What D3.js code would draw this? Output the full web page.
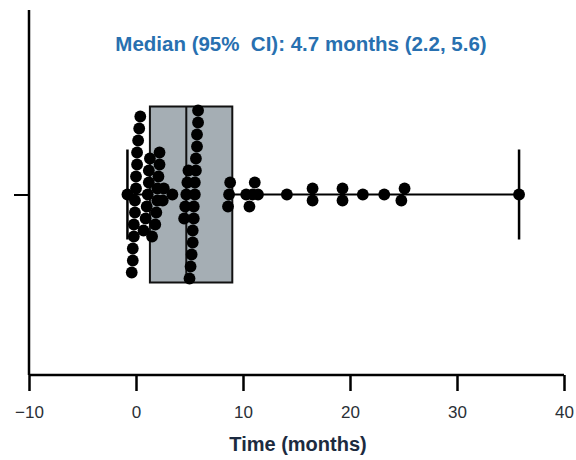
<!DOCTYPE html>
<html>
<head>
<meta charset="utf-8">
<script src="https://cdn.jsdelivr.net/npm/d3@7"></script>
<style>
	body { margin: 0; background: #fff; }
	text { font-family: 'Liberation Sans', Arial, sans-serif; }
</style>
</head>
<body>
<svg id="chart"></svg>
<script>
// time to event, months
const times = [
	-0.8,
	-0.4, -0.3, -0.3, -0.2, -0.2, -0.1, -0.1, 0, 0, 0.1, 0.1, 0.2, 0.3, 0.4,
	0.7, 0.9, 1.0, 1.1, 1.2, 1.2, 1.3,
	1.5, 1.8, 1.9, 2.0, 2.0, 2.1, 2.2, 2.2,
	2.5, 2.6,
	3.4,
	4.5, 4.6, 4.7, 4.8, 4.9,
	5.0, 5.1, 5.2, 5.3, 5.3, 5.4, 5.4, 5.5, 5.5, 5.6, 5.6, 5.7, 5.7, 5.8, 5.8,
	8.6, 8.7, 8.8,
	10.3, 10.6, 10.9, 11.1, 11.4,
	14.1, 16.5, 16.5, 19.3, 19.3, 21.2, 23.2, 24.8, 25.1, 35.8
]
// box summary: min, q1, median, q3, max
const boxStats = { min: -0.8, q1: 1.3, median: 4.7, q3: 9.0, max: 35.8 }
const xTicks = [-10, 0, 10, 20, 30, 40]
const categories = ['all']
const title = 'Median (95%  CI): 4.7 months (2.2, 5.6)'
const xLabel = 'Time (months)'

const width = 576
const height = 460
const margin = { top: 10, right: 12, bottom: 85, left: 29 }

const svg = d3.select('#chart').attr('width', width).attr('height', height)

const xScale = d3.scaleLinear().domain([-10, 40]).range([margin.left, width - margin.right])
const yScale = d3.scalePoint().domain(categories).range([margin.top, height - margin.bottom]).padding(0.98)

const cy = yScale('all') + 2
const r = 5.9
const gap = 12
const binW = 0.9

// column scatter: values in the same bin are stacked symmetrically about the centre
const bins = d3.groups(times.slice().sort((a, b) => a - b), t => Math.round(t / binW))
const placed = []
bins.forEach(([, vals]) => {
	const n = vals.length
	vals.forEach((t, i) => placed.push({ x: xScale(t), y: ((n - 1) / 2 - i) * gap }))
})

// box and whiskers
const boxH = 176
const capH = 90
svg.append('line')
	.attr('x1', xScale(boxStats.min)).attr('x2', xScale(boxStats.max))
	.attr('y1', cy).attr('y2', cy)
	.attr('stroke', '#000').attr('stroke-width', 2)
;[boxStats.min, boxStats.max].forEach(v => {
	svg.append('line')
		.attr('x1', xScale(v)).attr('x2', xScale(v))
		.attr('y1', cy - capH / 2).attr('y2', cy + capH / 2)
		.attr('stroke', '#000').attr('stroke-width', 2.5)
})
svg.append('rect')
	.attr('x', xScale(boxStats.q1))
	.attr('y', cy - boxH / 2)
	.attr('width', xScale(boxStats.q3) - xScale(boxStats.q1))
	.attr('height', boxH)
	.attr('fill', '#a5aeb4')
	.attr('stroke', '#111')
	.attr('stroke-width', 2)
svg.append('line')
	.attr('x1', xScale(boxStats.median)).attr('x2', xScale(boxStats.median))
	.attr('y1', cy - boxH / 2).attr('y2', cy + boxH / 2)
	.attr('stroke', '#111').attr('stroke-width', 2)

svg.append('g')
	.selectAll('circle')
	.data(placed)
	.join('circle')
	.attr('cx', d => d.x)
	.attr('cy', d => cy + d.y)
	.attr('r', r)
	.attr('fill', '#000')

// axes
const xAxis = d3.axisBottom(xScale).tickValues(xTicks).tickSize(16).tickFormat(d => d < 0 ? '\u2212' + Math.abs(d) : d)
const gx = svg.append('g')
	.attr('transform', `translate(0,${height - margin.bottom})`)
	.call(xAxis)
gx.select('.domain').attr('stroke-width', 2.5).attr('d', `M${xScale(-10)},0H${xScale(40)}`)
gx.selectAll('.tick line').attr('stroke-width', 2.5)
gx.selectAll('.tick text')
	.attr('font-size', 17)
	.attr('fill', '#2a2f36')
	.attr('y', 43)
	.attr('dy', 0)

const yAxis = d3.axisLeft(yScale).tickSize(15).tickFormat('')
const gy = svg.append('g')
	.attr('transform', `translate(${margin.left},0)`)
	.call(yAxis)
gy.select('.domain').attr('stroke-width', 2.5).attr('d', `M0,${margin.top}V${height - margin.bottom}`)
gy.selectAll('.tick line').attr('stroke-width', 2).attr('transform', 'translate(0,2)')

svg.append('text')
	.attr('x', 298)
	.attr('y', 451)
	.attr('text-anchor', 'middle')
	.attr('font-size', 20)
	.attr('font-weight', 'bold')
	.attr('fill', '#1c2b40')
	.text(xLabel)

svg.append('text')
	.attr('x', 301)
	.attr('y', 51)
	.attr('text-anchor', 'middle')
	.attr('font-size', 20.5)
	.attr('font-weight', 'bold')
	.attr('fill', '#2870b0')
	.style('white-space', 'pre')
	.text(title)
</script>
</body>
</html>
